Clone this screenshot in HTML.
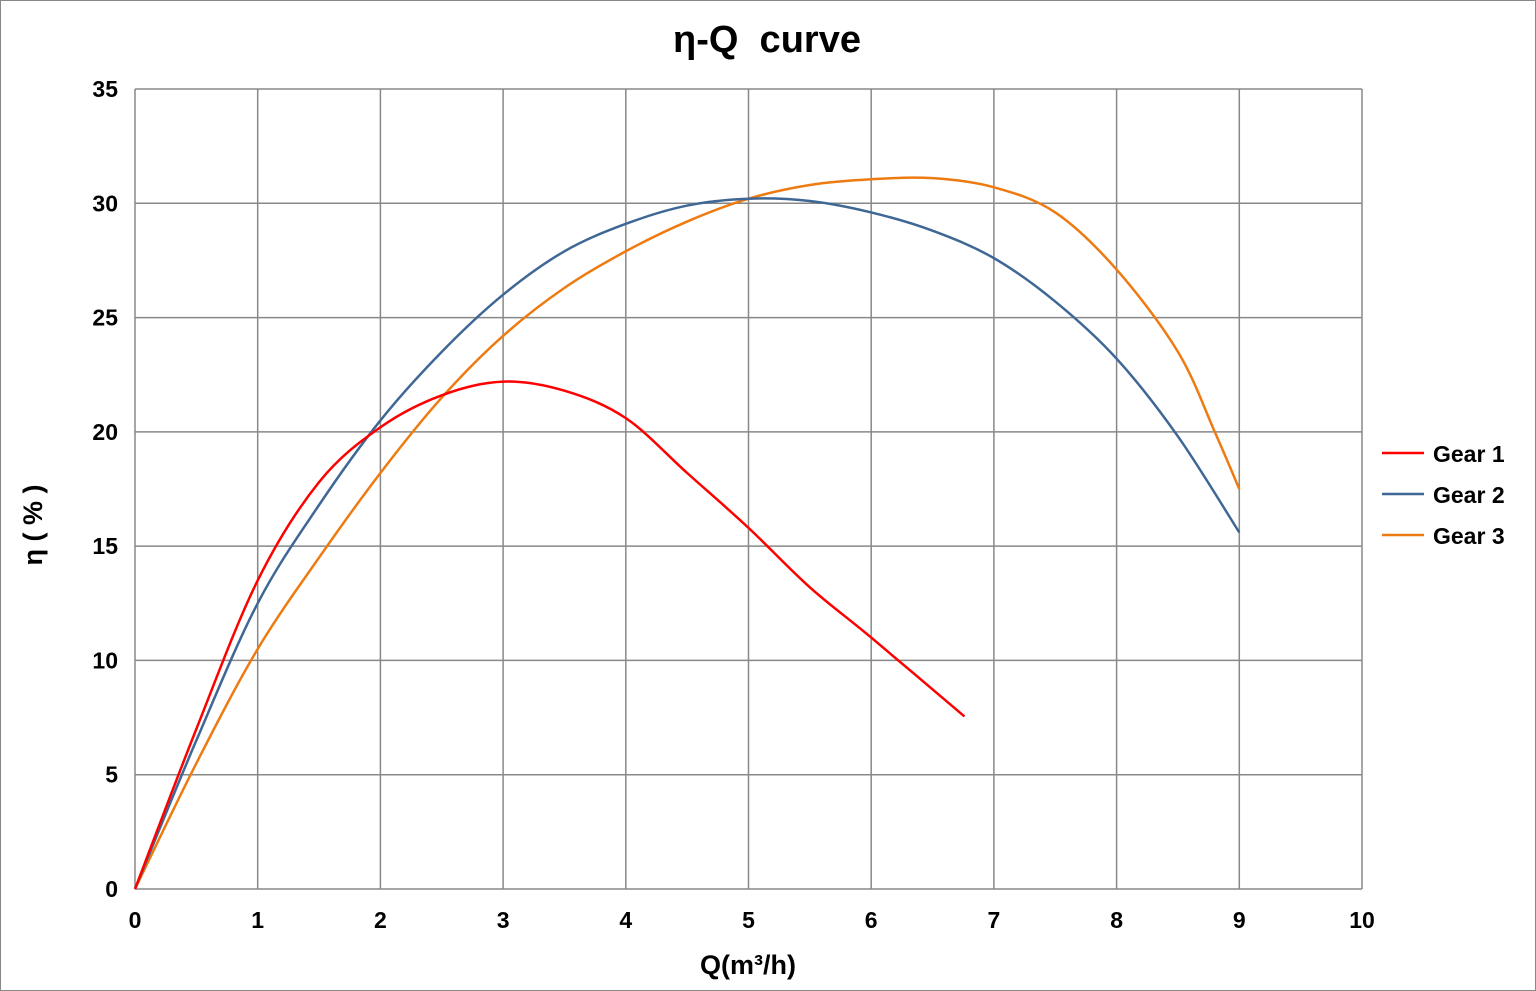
<!DOCTYPE html>
<html><head><meta charset="utf-8"><style>
html,body{margin:0;padding:0;background:#fff;}
svg{display:block;font-family:"Liberation Sans","DejaVu Sans",sans-serif;}
</style></head><body>
<svg id="s" width="1536" height="991" viewBox="0 0 1536 991" xmlns="http://www.w3.org/2000/svg">
<rect x="0.5" y="0.5" width="1535" height="990" fill="#fff" stroke="#888" stroke-width="1"/>
<text x="767" y="52" text-anchor="middle" font-size="38" font-weight="bold">η-Q&#160; curve</text>
<g id="grid" stroke="#888" stroke-width="1.5"></g>
<g id="labels" font-size="23" font-weight="bold" fill="#000"></g>
<text x="748" y="974" text-anchor="middle" font-size="27" font-weight="bold">Q(m³/h)</text>
<text transform="translate(42,525) rotate(-90)" text-anchor="middle" font-size="27" font-weight="bold">η ( % )</text>
<g id="curves" fill="none" stroke-width="2.5"></g>
<g font-size="23" font-weight="bold">
<line x1="1382" y1="453" x2="1424" y2="453" stroke="#ff0000" stroke-width="2.5"/>
<text x="1433" y="462">Gear 1</text>
<line x1="1382" y1="494" x2="1424" y2="494" stroke="#3f6796" stroke-width="2.5"/>
<text x="1433" y="503">Gear 2</text>
<line x1="1382" y1="535" x2="1424" y2="535" stroke="#ee7b12" stroke-width="2.5"/>
<text x="1433" y="544">Gear 3</text>
</g>
</svg>
<script>
var X0=135,XS=122.7,Y0=889,YS=800/35,NS="http://www.w3.org/2000/svg";
function px(x){return X0+x*XS} function py(y){return Y0-y*YS}
var g=document.getElementById('grid'),l=document.getElementById('labels');
function el(p,t,a){var e=document.createElementNS(NS,t);for(var k in a)e.setAttribute(k,a[k]);p.appendChild(e);return e}
for(var i=0;i<=10;i++){el(g,'line',{x1:px(i),y1:py(0),x2:px(i),y2:py(35)});var t=el(l,'text',{x:px(i),y:928,'text-anchor':'middle'});t.textContent=i;}
for(var j=0;j<=35;j+=5){el(g,'line',{x1:px(0),y1:py(j),x2:px(10),y2:py(j)});var t=el(l,'text',{x:118,y:py(j)+8,'text-anchor':'end'});t.textContent=j;}
function path(pts){var P=pts.map(function(p){return [px(p[0]),py(p[1])]});var d='M'+P[0][0]+','+P[0][1];
for(var i=0;i<P.length-1;i++){var p0=P[i-1]||P[i],p1=P[i],p2=P[i+1],p3=P[i+2]||P[i+1];
d+=' C'+(p1[0]+(p2[0]-p0[0])/6)+','+(p1[1]+(p2[1]-p0[1])/6)+' '+(p2[0]-(p3[0]-p1[0])/6)+','+(p2[1]-(p3[1]-p1[1])/6)+' '+p2[0]+','+p2[1];}return d;}
var c=document.getElementById('curves');
el(c,'path',{stroke:'#ee7b12',d:path([[0,0],[0.5,5.5],[1,10.5],[1.5,14.5],[2,18.2],[2.5,21.5],[3,24.2],[3.5,26.3],[4,27.9],[4.5,29.2],[5,30.2],[5.5,30.8],[6,31.05],[6.5,31.1],[7,30.7],[7.5,29.6],[8,27.1],[8.5,23.5],[8.8,20],[9,17.5]])});
el(c,'path',{stroke:'#3f6796',d:path([[0,0],[0.5,6.5],[1,12.5],[1.5,16.8],[2,20.5],[2.5,23.5],[3,26],[3.5,27.9],[4,29.1],[4.5,29.9],[5,30.2],[5.5,30.1],[6,29.6],[6.5,28.8],[7,27.6],[7.5,25.7],[8,23.2],[8.5,19.8],[9,15.6]])});
el(c,'path',{stroke:'#ff0000',d:path([[0,0],[0.5,7],[1,13.5],[1.5,17.8],[2,20.2],[2.5,21.6],[3,22.2],[3.5,21.8],[4,20.6],[4.5,18.2],[5,15.8],[5.5,13.2],[6,11],[6.76,7.55]])});
</script>
</body></html>
